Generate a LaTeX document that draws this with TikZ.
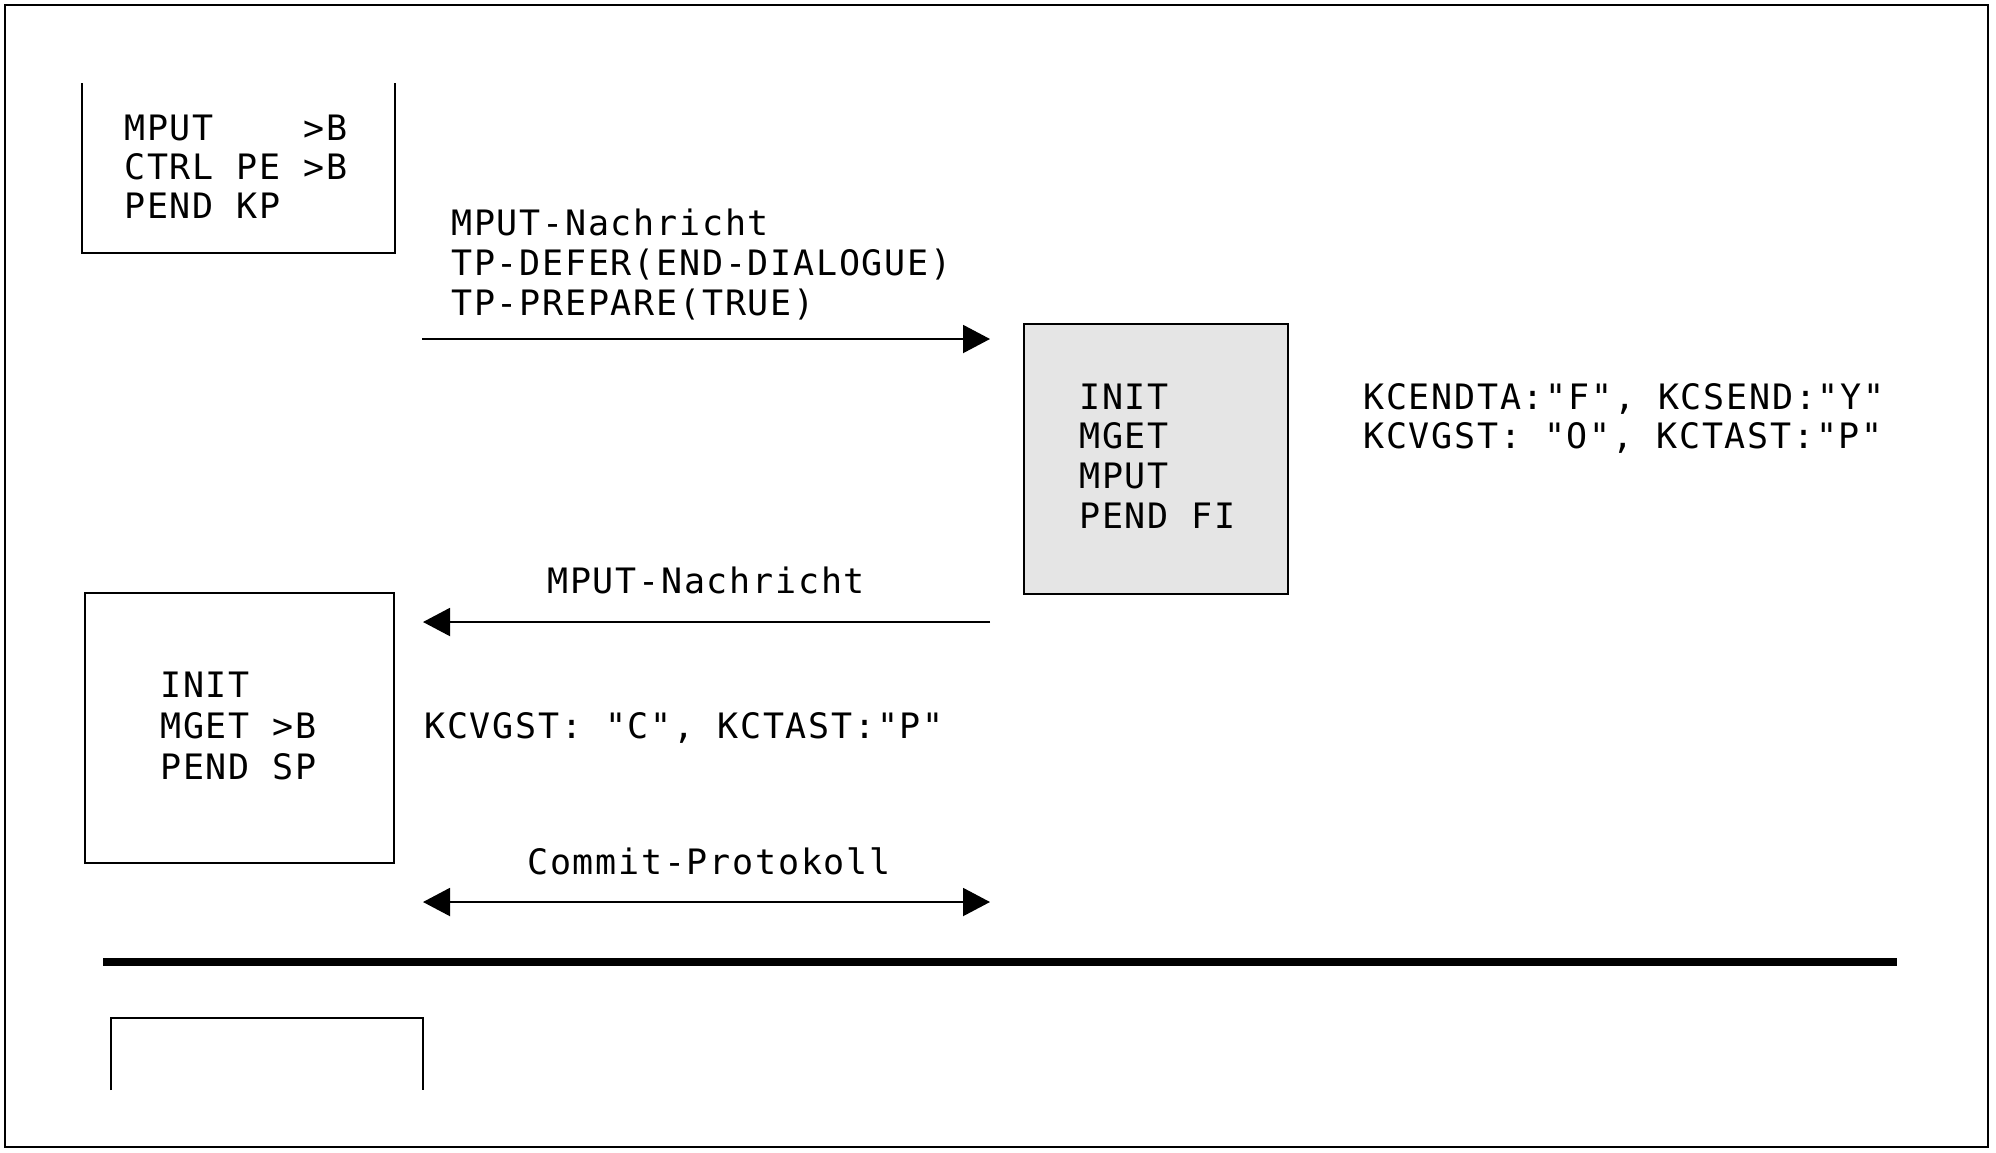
\documentclass[tikz,border=0pt]{standalone}
\usepackage{fontspec}
\newfontfamily\diafont[LetterSpace=5.0]{DejaVu Sans Mono}
\usetikzlibrary{arrows.meta}
\begin{document}
\begin{tikzpicture}[x=1pt,y=-1pt,
  txt/.style={anchor=base west, inner sep=0pt, font=\diafont\fontsize{35}{40}\selectfont},
  ln/.style={line width=2pt},
  boxnode/.style={draw, line width=2pt, inner sep=0pt},
  tipT/.tip={Triangle[length=27pt,width=28pt]},
  arr/.style={line width=2pt, -tipT},
  darr/.style={line width=2pt, tipT-tipT}]
\useasboundingbox (0,0) rectangle (1996,1152);
% outer frame
\draw[ln] (5,5) rectangle (1988,1147);
% top-left open box
\draw[ln] (82,83) -- (82,253) -- (395,253) -- (395,83);
\node[txt] (b1a) at (124,140) {\makebox[0pt][l]{MPUT}\hphantom{CTRL PE }>B};
\node[txt] (b1b) at (124,179) {CTRL PE >B};
\node[txt] (b1c) at (124,218) {PEND KP};
% message text
\node[txt] (m1a) at (451,235) {MPUT-Nachricht};
\node[txt] (m1b) at (451,275) {TP-DEFER(END-DIALOGUE)};
\node[txt] (m1c) at (451,315) {TP-PREPARE(TRUE)};
% gray box
\node[boxnode, fill=black!10, minimum width=264pt, minimum height=270pt] (proc) at (1156,459) {};
\node[txt] (p1) at (1079,409) {INIT};
\node[txt] (p2) at (1079,448) {MGET};
\node[txt] (p3) at (1079,488) {MPUT};
\node[txt] (p4) at (1079,528) {PEND FI};
\node[txt] (k1) at (1363,409) {KCENDTA:"F", KCSEND:"Y"};
\node[txt] (k2) at (1363,448) {KCVGST: "O", KCTAST:"P"};
% left lower box
\node[boxnode, minimum width=309pt, minimum height=270pt] (recv) at (239.5,728) {};
\node[txt] (r1) at (160,697) {INIT};
\node[txt] (r2) at (160,738) {MGET >B};
\node[txt] (r3) at (160,779) {PEND SP};
\node[txt] (k3) at (424,738) {KCVGST: "C", KCTAST:"P"};
\node[txt] (m2) at (547,593) {MPUT-Nachricht};
\node[txt] (cp) at (527,874) {Commit-Protokoll};
% connectors
\coordinate (a1s) at (422,339);
\coordinate (a1e) at (990,339);
\draw[arr] (a1s) -- (a1e);
\coordinate (a2s) at (990,622);
\coordinate (a2e) at (423,622);
\draw[arr] (a2s) -- (a2e);
\coordinate (a3s) at (423,902);
\coordinate (a3e) at (990,902);
\draw[darr] (a3s) -- (a3e);
% thick separator
\coordinate (sepL) at (103,962);
\coordinate (sepR) at (1897,962);
\draw[line width=7.5pt] (sepL) -- (sepR);
% bottom open box
\draw[ln] (111,1090) -- (111,1018) -- (423,1018) -- (423,1090);
\end{tikzpicture}
\end{document}
